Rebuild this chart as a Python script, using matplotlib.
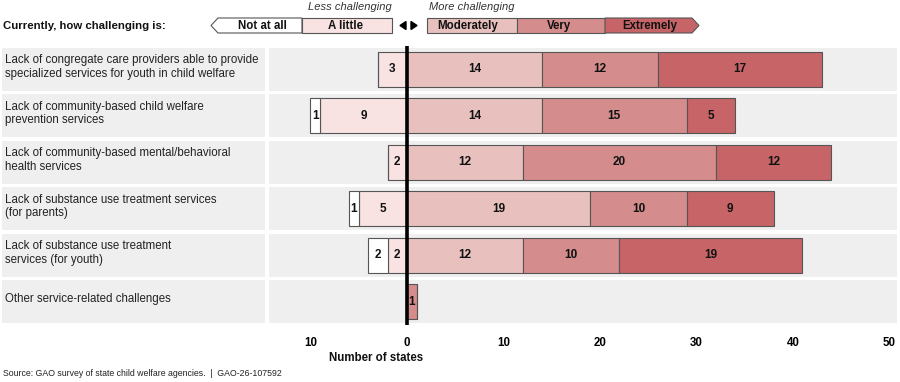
import matplotlib.pyplot as plt
from matplotlib.patches import Polygon, Rectangle

plt.rcParams['font.family'] = ['Liberation Sans', 'DejaVu Sans']

# data (number of states)
categories = [
    "Lack of congregate care providers able to provide\nspecialized services for youth in child welfare",
    "Lack of community-based child welfare\nprevention services",
    "Lack of community-based mental/behavioral\nhealth services",
    "Lack of substance use treatment services\n(for parents)",
    "Lack of substance use treatment\nservices (for youth)",
    "Other service-related challenges",
]
not_at_all = [0, 1, 0, 1, 2, 0]
a_little = [3, 9, 2, 5, 2, 0]
moderately = [14, 14, 12, 19, 12, 0]
very = [12, 15, 20, 10, 10, 1]
extremely = [17, 5, 12, 9, 19, 0]

levels = ["Not at all", "A little", "Moderately", "Very", "Extremely"]
colors = ["#ffffff", "#f8e2e2", "#e8c1be", "#d48d8c", "#c76467"]
xticks = [-10, 0, 10, 20, 30, 40, 50]

W, H = 900, 382
edge = "#555555"
bg = "#efefef"

fig = plt.figure(figsize=(W / 100, H / 100), dpi=100)

top_px, bot_px = 46, 325
ax = fig.add_axes([269 / W, 1 - bot_px / H, (897 - 269) / W, (bot_px - top_px) / H])
lab = fig.add_axes([2 / W, 1 - bot_px / H, (265 - 2) / W, (bot_px - top_px) / H])

n = len(categories)
for a in (ax, lab):
    a.set_ylim(n - 0.5, -0.5)
    for s in a.spines.values():
        s.set_visible(False)

# label panel
lab.set_xlim(0, 1)
lab.axis("off")
for i, c in enumerate(categories):
    lab.add_patch(Rectangle((0, i - 0.46), 1, 0.92, color=bg, lw=0))
    lab.text(0.012, i - 0.05, c, va="center", ha="left", fontsize=8.3,
             color="#222222", linespacing=1.15)

# bars
ax.set_xlim(-14.3, 50.8)
for i in range(n):
    ax.axhspan(i - 0.46, i + 0.46, color=bg, lw=0, zorder=0)

h = 0.75
ys = list(range(n))
neg1 = [-v for v in a_little]
neg2 = [-(a + b) for a, b in zip(a_little, not_at_all)]
ax.barh(ys, a_little, left=neg1, height=h, color=colors[1], edgecolor=edge, lw=0.8, zorder=2)
ax.barh(ys, not_at_all, left=neg2, height=h, color=colors[0], edgecolor=edge, lw=0.8, zorder=2)
left = [0] * n
pos_series = [moderately, very, extremely]
for vals, col in zip(pos_series, colors[2:]):
    ax.barh(ys, vals, left=left, height=h, color=col, edgecolor=edge, lw=0.8, zorder=2)
    left = [l + v for l, v in zip(left, vals)]

# value labels
for i in range(n):
    segs = [(-not_at_all[i] - a_little[i], not_at_all[i]), (-a_little[i], a_little[i])]
    x0 = 0
    for vals in pos_series:
        segs.append((x0, vals[i]))
        x0 += vals[i]
    for start, v in segs:
        if v > 0:
            ax.text(start + v / 2, i, str(v), ha="center", va="center",
                    fontsize=8.5, fontweight="bold", color="#111111", zorder=3)

ax.axvline(0, color="black", lw=2.6, zorder=4)

ax.set_yticks([])
ax.set_xticks(xticks)
ax.set_xticklabels([str(abs(t)) for t in xticks], fontsize=8.3, fontweight="bold")
ax.tick_params(axis="x", length=0, pad=9)

# header / legend drawn in pixel coords
hdr = fig.add_axes([0, 0, 1, 1], zorder=5)
hdr.set_xlim(0, W)
hdr.set_ylim(H, 0)
hdr.axis("off")
hdr.patch.set_alpha(0)

hdr.text(3, 26, "Currently, how challenging is:", fontsize=8.2, fontweight="bold",
         va="center", ha="left", color="#111111")
hdr.text(350, 6.5, "Less challenging", fontsize=8, style="italic", va="center",
         ha="center", color="#333333")
hdr.text(429, 6.5, "More challenging", fontsize=8, style="italic", va="center",
         ha="left", color="#333333")

y0, y1 = 18, 33
ym = (y0 + y1) / 2
boxes = [
    [(218, y0), (302, y0), (302, y1), (218, y1), (211, ym)],
    [(302, y0), (392, y0), (392, y1), (302, y1)],
    [(427, y0), (517, y0), (517, y1), (427, y1)],
    [(517, y0), (605, y0), (605, y1), (517, y1)],
    [(605, y0), (692, y0), (699, ym), (692, y1), (605, y1)],
]
centers = [262, 346, 468, 559, 650]
for pts, col, name, cx in zip(boxes, colors, levels, centers):
    hdr.add_patch(Polygon(pts, closed=True, facecolor=col, edgecolor=edge, lw=0.8))
    hdr.text(cx, ym + 0.5, name, fontsize=8.3, fontweight="bold", ha="center",
             va="center", color="#111111")
hdr.add_patch(Polygon([(400, ym), (406, ym - 4), (406, ym + 4)], closed=True, color="black"))
hdr.add_patch(Polygon([(417, ym), (411, ym - 4), (411, ym + 4)], closed=True, color="black"))

hdr.text(376, 358, "Number of states", fontsize=8.3, fontweight="bold",
         ha="center", va="center", color="#111111")
hdr.text(3, 374, "Source: GAO survey of state child welfare agencies.  |  GAO-26-107592",
         fontsize=6.3, ha="left", va="center", color="#222222")

fig.savefig("out.png", dpi=100)
